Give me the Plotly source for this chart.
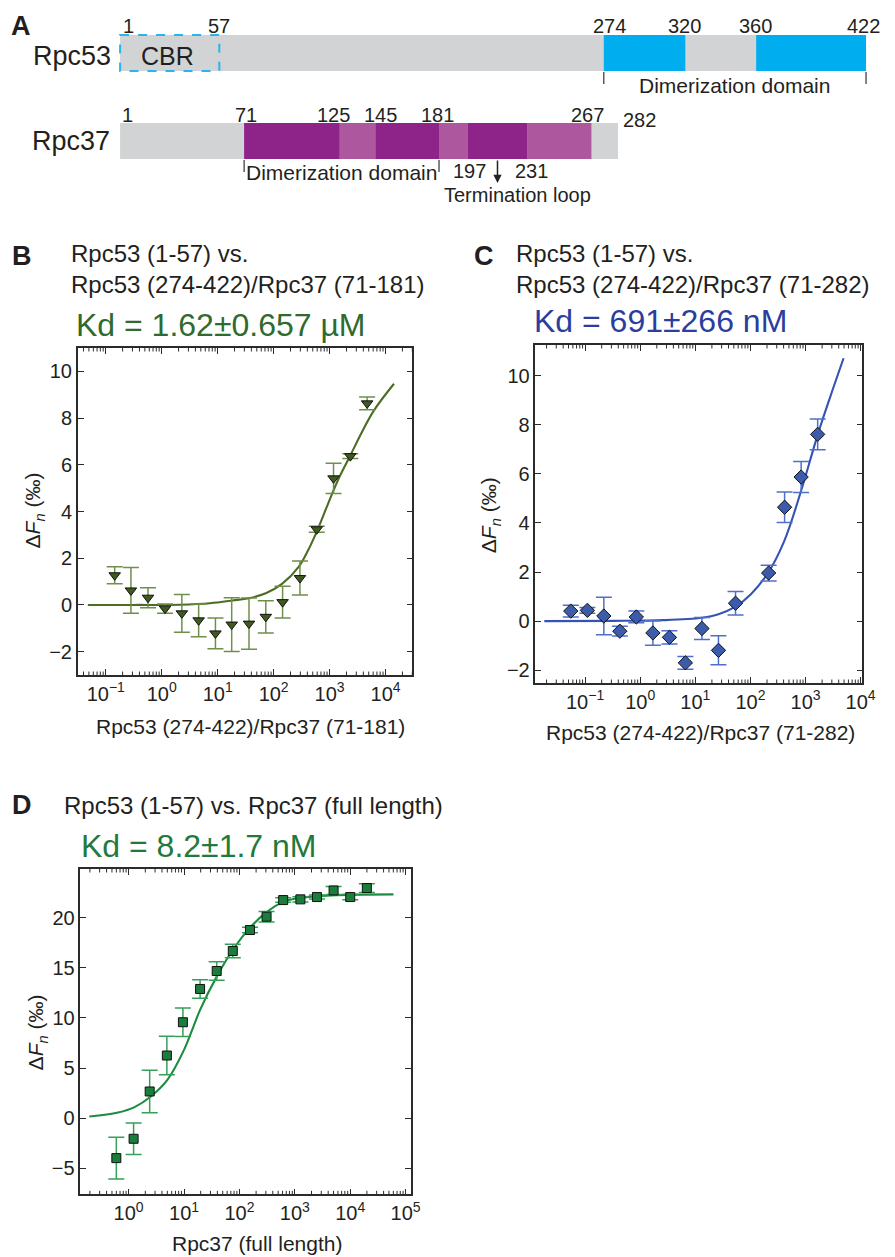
import math
import plotly.graph_objects as go

W, H = 895, 1257
FONT = "Liberation Sans, Arial, Helvetica, sans-serif"
TXT = "#231f20"

# ---------------- Panel A data (residue numbers) ----------------
rpc53_length = 422
rpc53_cbr = (1, 57)
rpc53_dimer_blocks = [(274, 320), (360, 422)]
rpc53_ticks = [1, 57, 274, 320, 360, 422]
rpc37_length = 282
rpc37_dark_blocks = [(71, 125), (145, 181), (197, 231)]
rpc37_light_blocks = [(125, 145), (181, 197), (231, 267)]
rpc37_ticks = [1, 71, 125, 145, 181, 267, 282]
rpc53_dimer_span = (274, 422)
rpc37_dimer_span = (71, 181)
term_loop = (197, 231)

# ---------------- Panel B data ----------------
b_conc = [0.1445, 0.2818, 0.569, 1.148, 2.29, 4.57, 9.12, 17.8, 36.3, 72.4,
          144.5, 295, 589, 1175, 2344, 4677]
b_dfn = [1.27, 0.62, 0.31, -0.16, -0.36, -0.66, -1.22, -0.84, -0.80, -0.51,
         0.12, 1.15, 3.24, 5.42, 6.37, 8.63]
b_err = [0.36, 0.98, 0.43, 0.20, 0.81, 0.70, 0.66, 1.15, 1.10, 0.69,
         0.68, 0.73, 0.13, 0.65, 0.10, 0.27]
b_fit_conc = [0.0479, 0.316, 2.14, 7.24, 18.6, 36.3, 72.4, 141, 282, 417, 589,
              933, 1413, 2344, 3631, 6166, 14125]
b_fit_dfn = [0.0, 0.0, 0.01, 0.07, 0.19, 0.29, 0.50, 0.90, 1.64, 2.36, 3.14,
             4.32, 5.35, 6.40, 7.32, 8.32, 9.47]

# ---------------- Panel C data ----------------
c_conc = [0.055, 0.110, 0.219, 0.427, 0.851, 1.70, 3.39, 6.61, 13.2, 26.3,
          53.7, 214, 417, 832, 1660]
c_dfn = [0.41, 0.44, 0.21, -0.41, 0.17, -0.48, -0.66, -1.70, -0.30, -1.19,
         0.73, 1.96, 4.64, 5.87, 7.61]
c_err = [0.24, 0.12, 0.76, 0.20, 0.24, 0.50, 0.27, 0.26, 0.45, 0.59,
         0.48, 0.32, 0.62, 0.63, 0.63]
c_fit_conc = [0.0182, 0.316, 2.57, 13.2, 26.3, 52.5, 102, 204, 407, 813, 1660,
              2818, 4898]
c_fit_dfn = [0.0, 0.01, 0.04, 0.14, 0.28, 0.58, 1.10, 1.93, 3.24, 5.24, 7.59,
             9.15, 10.71]

# ---------------- Panel D data ----------------
d_conc = [0.60, 1.23, 2.40, 4.90, 9.55, 19.5, 38.9, 75.9, 155, 309, 617,
          1260, 2510, 5010, 10000, 19950]
d_dfn = [-3.99, -2.06, 2.66, 6.25, 9.57, 12.89, 14.68, 16.68, 18.77, 20.10,
         21.76, 21.83, 22.06, 22.72, 22.06, 22.96]
d_err = [2.08, 1.58, 2.13, 1.91, 1.43, 0.93, 0.93, 0.67, 0.27, 0.52,
         0.22, 0.27, 0.20, 0.40, 0.27, 0.44]
d_fit_conc = [0.195, 0.646, 1.28, 2.51, 5.01, 10.0, 14.8, 19.5, 38.9, 75.9,
              151, 302, 589, 1175, 4571, 60256]
d_fit_dfn = [0.17, 0.56, 1.10, 2.16, 3.82, 6.81, 9.14, 10.8, 14.12, 16.78,
             18.94, 20.5, 21.53, 21.96, 22.23, 22.33]

x_exps_bc = [-1, 0, 1, 2, 3, 4]
x_exps_d = [0, 1, 2, 3, 4, 5]


def px(x):
    return x / W


def py(y):
    return 1 - y / H


def ann(text, x, y, size, color=TXT, xanchor="center", **kw):
    return dict(text=text, x=px(x), y=py(y), xref="paper", yref="paper",
                showarrow=False, xanchor=xanchor, yanchor="middle",
                font=dict(family=FONT, size=size, color=color), **kw)


fig = go.Figure()

# ---------------- binding curves ----------------
panels = [
    ("x", "y", b_conc, b_dfn, b_err, b_fit_conc, b_fit_dfn,
     "triangle-down", 10, "#3f5a1f", "#6f8f4a", "#4d6d24"),
    ("x2", "y2", c_conc, c_dfn, c_err, c_fit_conc, c_fit_dfn,
     "diamond", 11, "#3c5cab", "#4e6fcc", "#3553b5"),
    ("x3", "y3", d_conc, d_dfn, d_err, d_fit_conc, d_fit_dfn,
     "square", 9, "#1b7d3b", "#34a058", "#1c8c40"),
]
for xa, ya, cx, cy, ce, fx, fy, sym, msz, mcol, ecol, lcol in panels:
    fig.add_trace(go.Scatter(x=fx, y=fy, mode="lines", xaxis=xa, yaxis=ya,
                             line=dict(color=lcol, width=2.1, shape="spline"),
                             hoverinfo="skip", showlegend=False))
    fig.add_trace(go.Scatter(x=cx, y=cy, mode="markers", xaxis=xa, yaxis=ya,
                             marker=dict(symbol=sym, size=msz, color=mcol,
                                         line=dict(color="#111111", width=1)),
                             error_y=dict(type="data", array=ce, visible=True,
                                          color=ecol, thickness=1.5, width=8),
                             showlegend=False))

# hidden host trace for panel A axis
fig.add_trace(go.Scatter(x=[1], y=[0], xaxis="x4", yaxis="y4", mode="markers",
                         marker=dict(opacity=0), hoverinfo="skip",
                         showlegend=False))

AX = "#2b2b2b"
TICKFONT = dict(family=FONT, size=20, color=TXT)


def xlog(domain, rng, exps, anchor):
    return dict(type="log", domain=domain, range=rng, anchor=anchor,
                tickmode="array", tickvals=[10 ** e for e in exps],
                ticktext=["10<sup>%s</sup>" % (str(e).replace("-", "\u2212")) for e in exps],
                ticks="inside", ticklen=6, tickwidth=1.2, tickcolor=AX,
                showline=True, linecolor=AX, linewidth=1.5, mirror="ticks",
                showgrid=False, zeroline=False, tickfont=TICKFONT)


def ylin(domain, rng, tv, anchor):
    return dict(domain=domain, range=rng, anchor=anchor, tickmode="array",
                tickvals=tv, ticks="inside", ticklen=6, tickwidth=1.2,
                tickcolor=AX, showline=True, linecolor=AX, linewidth=1.5,
                mirror="ticks", showgrid=False, zeroline=False,
                tickfont=TICKFONT)


pB = dict(xd=[79, 419], xr=[-1.5, 4.48], yd=[675, 348])
pC = dict(xd=[544, 876], xr=[-1.9, 4.03], yd=[683, 345])
pD = dict(xd=[81.7, 417.7], xr=[-0.87, 5.1], yd=[1194.3, 869])

layout = dict(
    width=W, height=H, margin=dict(l=0, r=0, t=0, b=0),
    paper_bgcolor="white", plot_bgcolor="white", showlegend=False,
    xaxis=xlog([px(v) for v in pB["xd"]], pB["xr"], x_exps_bc, "y"),
    yaxis=ylin([py(v) for v in pB["yd"]], [-3, 11], [-2, 0, 2, 4, 6, 8, 10], "x"),
    xaxis2=xlog([px(v) for v in pC["xd"]], pC["xr"], x_exps_bc, "y2"),
    yaxis2=ylin([py(v) for v in pC["yd"]], [-2.52, 11.25], [-2, 0, 2, 4, 6, 8, 10], "x2"),
    xaxis3=xlog([px(v) for v in pD["xd"]], pD["xr"], x_exps_d, "y3"),
    yaxis3=ylin([py(v) for v in pD["yd"]], [-7.6, 24.86], [-5, 0, 5, 10, 15, 20], "x3"),
    xaxis4=dict(domain=[0, 1], range=[1 - 122 / 1.8, 1 + (W - 122) / 1.8],
                visible=False, anchor="y4"),
    yaxis4=dict(domain=[py(210), 1], range=[210, 0], visible=False, anchor="x4"),
)
fig.update_layout(**layout)

shapes = []

# ---------------- minor log ticks (bottom and top, inside) ----------------
for xref, yref, p in [("x", "y domain", pB), ("x2", "y2 domain", pC),
                      ("x3", "y3 domain", pD)]:
    frac = 3.5 / (p["yd"][0] - p["yd"][1])
    lo, hi = p["xr"]
    for k in range(math.floor(lo), math.ceil(hi) + 1):
        for m in range(2, 10):
            v = k + math.log10(m)
            if lo < v < hi:
                xv = m * 10.0 ** k
                for y0, y1 in [(0, frac), (1 - frac, 1)]:
                    shapes.append(dict(type="line", xref=xref, yref=yref,
                                       x0=xv, x1=xv, y0=y0, y1=y1,
                                       line=dict(color=AX, width=1)))

# ---------------- Panel A shapes ----------------
GRAY = "#d1d3d4"
BLUE = "#00aeef"
DARKP = "#8e2489"
LIGHTP = "#ad579f"


def rect(x0, x1, y0, y1, color):
    shapes.append(dict(type="rect", xref="x4", yref="y4", x0=x0, x1=x1,
                       y0=y0, y1=y1, fillcolor=color, line=dict(width=0),
                       layer="above"))


R53 = (35, 71)
R37 = (123, 159)
rect(1, rpc53_length, *R53, GRAY)
for a, b in rpc53_dimer_blocks:
    rect(a, b, *R53, BLUE)
shapes.append(dict(type="rect", xref="x4", yref="y4", x0=rpc53_cbr[0],
                   x1=rpc53_cbr[1], y0=R53[0], y1=R53[1],
                   line=dict(color="#29b4ee", width=2, dash="dash"),
                   fillcolor="rgba(0,0,0,0)", layer="above"))
rect(1, rpc37_length, *R37, GRAY)
for a, b in rpc37_dark_blocks:
    rect(a, b, *R37, DARKP)
for a, b in rpc37_light_blocks:
    rect(a, b, *R37, LIGHTP)
for xv in rpc53_dimer_span:
    shapes.append(dict(type="line", xref="x4", yref="y4", x0=xv, x1=xv,
                       y0=72, y1=84, line=dict(color="#333", width=1.2)))
for xv in rpc37_dimer_span:
    shapes.append(dict(type="line", xref="x4", yref="y4", x0=xv, x1=xv,
                       y0=160, y1=172, line=dict(color="#333", width=1.2)))
fig.update_layout(shapes=shapes)

annos = []


def aA(text, r, y, size=20, xanchor="center", xshift=0):
    annos.append(dict(text=text, x=r, y=y, xref="x4", yref="y4",
                      showarrow=False, xanchor=xanchor, yanchor="middle",
                      xshift=xshift,
                      font=dict(family=FONT, size=size, color=TXT)))


shift53 = {1: 1, 57: 0, 274: 6, 320: -1, 360: -1, 422: -3}
for t in rpc53_ticks:
    aA(str(t), t, 26, xanchor="left" if t == 1 else "center", xshift=shift53[t])
shift37 = {1: 0, 71: 2, 125: -6, 145: 5, 181: -2, 267: -4, 282: 3}
for t in rpc37_ticks:
    if t == rpc37_length:
        aA(str(t), t, 120, xanchor="left", xshift=shift37[t])
    else:
        aA(str(t), t, 115, xanchor="left" if t == 1 else "center", xshift=shift37[t])
aA("CBR", sum(rpc53_cbr) / 2, 56, size=25, xshift=-2)
aA("Dimerization domain", sum(rpc53_dimer_span) / 2, 85, size=21)
aA("Dimerization domain", sum(rpc37_dimer_span) / 2, 172, size=21)
aA("197", term_loop[0], 171, size=20, xshift=2)
aA("231", term_loop[1], 171, size=20, xshift=4)
aA("Termination loop", sum(term_loop) / 2, 195, size=20, xshift=20)
mid_loop = sum(term_loop) / 2
annos.append(dict(text="", x=mid_loop, y=183, xref="x4", yref="y4",
                  ax=mid_loop, ay=159, axref="x4", ayref="y4", showarrow=True,
                  arrowhead=2, arrowsize=1.1, arrowwidth=1.5, arrowcolor="#222",
                  standoff=0))

annos.append(ann("<b>A</b>", 21, 26, 27))
annos.append(ann("Rpc53", 115, 56, 27, xanchor="right"))
annos.append(ann("Rpc37", 114, 141, 27, xanchor="right"))

# ---------------- Panel B/C/D texts ----------------
annos.append(ann("<b>B</b>", 22, 256, 27))
annos.append(ann("Rpc53 (1-57) vs.", 70, 254, 24, xanchor="left"))
annos.append(ann("Rpc53 (274-422)/Rpc37 (71-181)", 70, 284, 24, xanchor="left"))
annos.append(ann("Kd = 1.62\u00b10.657 \u00b5M", 225, 325, 32, color="#2f6a2f"))
annos.append(ann("Rpc53 (274-422)/Rpc37 (71-181)", 254, 726, 21))
annos.append(ann("\u0394<i>F</i><sub><i>n</i></sub> (\u2030)", 35, 510, 21, textangle=-90))

annos.append(ann("<b>C</b>", 492, 256, 27))
annos.append(ann("Rpc53 (1-57) vs.", 522, 254, 24, xanchor="left"))
annos.append(ann("Rpc53 (274-422)/Rpc37 (71-282)", 522, 284, 24, xanchor="left"))
annos.append(ann("Kd = 691\u00b1266 nM", 671, 321, 32, color="#2b3d9e"))
annos.append(ann("Rpc53 (274-422)/Rpc37 (71-282)", 712, 732, 21))
annos.append(ann("\u0394<i>F</i><sub><i>n</i></sub> (\u2030)", 498, 515, 21, textangle=-90))

annos.append(ann("<b>D</b>", 22, 805, 27))
annos.append(ann("Rpc53 (1-57) vs. Rpc37 (full length)", 63, 805, 24, xanchor="left"))
annos.append(ann("Kd = 8.2\u00b11.7 nM", 202, 846, 32, color="#1f7a3c"))
annos.append(ann("Rpc37 (full length)", 261, 1243, 21))
annos.append(ann("\u0394<i>F</i><sub><i>n</i></sub> (\u2030)", 38, 1032, 21, textangle=-90))

fig.update_layout(annotations=annos)
fig.write_html("out.html", config={"displayModeBar": False},
               post_script="document.body.style.margin='0';"
                           "document.body.style.overflow='hidden';")
